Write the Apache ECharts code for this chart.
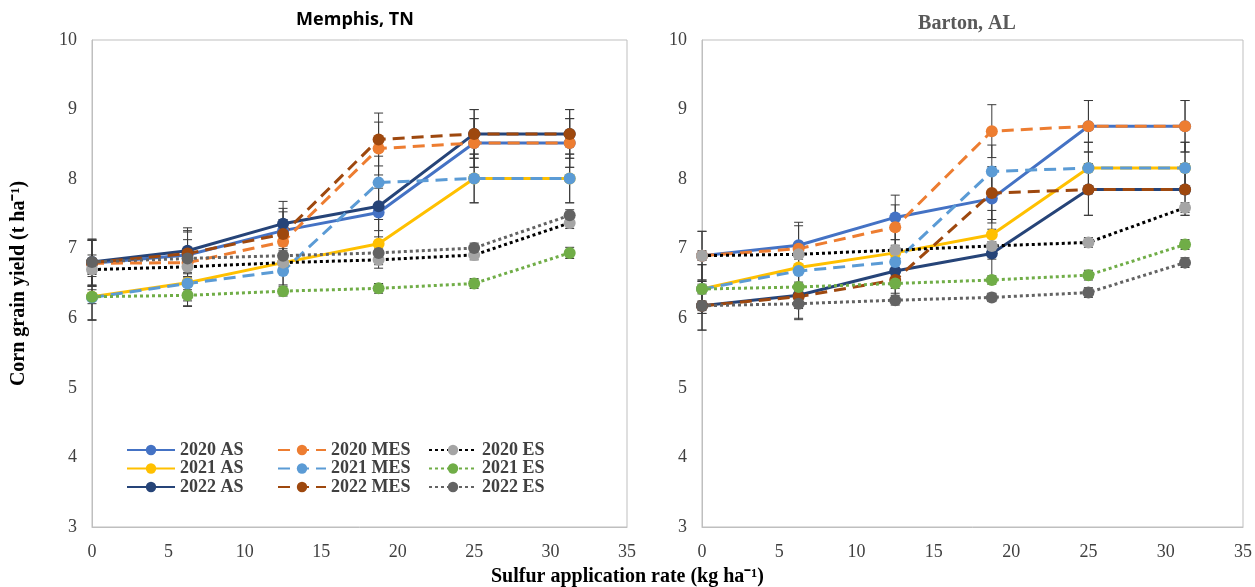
<!DOCTYPE html>
<html>
<head>
<meta charset="utf-8">
<script src="https://cdn.jsdelivr.net/npm/echarts@6/dist/echarts.min.js"></script>
<style>
html,body{margin:0;padding:0;background:#fff;}
#chart{width:1255px;height:587px;}
</style>
</head>
<body>
<div id="chart"></div>
<script>
// Sulfur application rates (kg/ha)
const xRates = [0, 6.25, 12.5, 18.75, 25, 31.25];
const xTicks = [0, 5, 10, 15, 20, 25, 30, 35];
const yTicks = [3, 4, 5, 6, 7, 8, 9, 10];
const seriesNames = ['2020 AS', '2021 AS', '2022 AS', '2020 MES', '2021 MES', '2022 MES', '2020 ES', '2021 ES', '2022 ES'];

// Memphis, TN
const mem2020AS  = [6.79, 6.91, 7.26, 7.52, 8.52, 8.52];
const mem2021AS  = [6.31, 6.51, 6.80, 7.07, 8.01, 8.01];
const mem2022AS  = [6.81, 6.97, 7.36, 7.61, 8.65, 8.65];
const mem2020MES = [6.79, 6.80, 7.10, 8.44, 8.52, 8.52];
const mem2021MES = [6.30, 6.50, 6.68, 7.95, 8.01, 8.01];
const mem2022MES = [6.80, 6.93, 7.21, 8.57, 8.65, 8.65];
const mem2020ES  = [6.70, 6.74, 6.80, 6.84, 6.91, 7.37];
const mem2021ES  = [6.31, 6.33, 6.39, 6.43, 6.50, 6.94];
const mem2022ES  = [6.81, 6.86, 6.90, 6.94, 7.01, 7.48];
const memErrAS  = [0.33, 0.33, 0.32, 0.35, 0.35, 0.35];
const memErrMES = [0.33, 0.33, 0.32, 0.38, 0.35, 0.35];
const memErrES  = [0.10, 0.08, 0.07, 0.07, 0.07, 0.08];

// Barton, AL
const bar2020AS  = [6.90, 7.05, 7.45, 7.72, 8.76, 8.76];
const bar2021AS  = [6.42, 6.73, 6.94, 7.20, 8.16, 8.16];
const bar2022AS  = [6.18, 6.33, 6.68, 6.93, 7.85, 7.85];
const bar2020MES = [6.90, 7.00, 7.31, 8.69, 8.76, 8.76];
const bar2021MES = [6.42, 6.68, 6.81, 8.11, 8.16, 8.16];
const bar2022MES = [6.18, 6.31, 6.55, 7.80, 7.85, 7.85];
const bar2020ES  = [6.90, 6.92, 6.98, 7.04, 7.09, 7.59];
const bar2021ES  = [6.42, 6.45, 6.50, 6.55, 6.62, 7.06];
const bar2022ES  = [6.18, 6.21, 6.26, 6.30, 6.37, 6.80];
const barErrAS  = [0.35, 0.33, 0.32, 0.35, 0.37, 0.37];
const barErrMES = [0.35, 0.33, 0.32, 0.38, 0.37, 0.37];
const barErrES  = [0.07, 0.07, 0.07, 0.06, 0.07, 0.07];

const styles = {
  '2020 AS':  {line:'#4472C4', mark:'#4472C4', type:'solid'},
  '2021 AS':  {line:'#FFC000', mark:'#FFC000', type:'solid'},
  '2022 AS':  {line:'#264478', mark:'#264478', type:'solid'},
  '2020 MES': {line:'#ED7D31', mark:'#ED7D31', type:[12,7]},
  '2021 MES': {line:'#5B9BD5', mark:'#5B9BD5', type:[12,7]},
  '2022 MES': {line:'#9E480E', mark:'#9E480E', type:[12,7]},
  '2020 ES':  {line:'#000000', mark:'#A5A5A5', type:[3,3]},
  '2021 ES':  {line:'#70AD47', mark:'#70AD47', type:[3,3]},
  '2022 ES':  {line:'#636363', mark:'#636363', type:[3,3]}
};

const memData = [mem2020AS, mem2021AS, mem2022AS, mem2020MES, mem2021MES, mem2022MES, mem2020ES, mem2021ES, mem2022ES];
const memErr = [memErrAS, memErrAS, memErrAS, memErrMES, memErrMES, memErrMES, memErrES, memErrES, memErrES];
const barData = [bar2020AS, bar2021AS, bar2022AS, bar2020MES, bar2021MES, bar2022MES, bar2020ES, bar2021ES, bar2022ES];
const barErr = [barErrAS, barErrAS, barErrAS, barErrMES, barErrMES, barErrMES, barErrES, barErrES, barErrES];

function errSeries(vals, errs, idx) {
  return {
    type: 'custom', xAxisIndex: idx, yAxisIndex: idx, silent: true, z: 1,
    data: xRates.map((x, i) => [x, vals[i], errs[i]]),
    renderItem: function (params, api) {
      const x = api.value(0), v = api.value(1), e = api.value(2);
      const t = api.coord([x, v + e]);
      const b = api.coord([x, v - e]);
      const c = 4.5;
      const st = {stroke:'#3a3a3a', lineWidth:1};
      return {type:'group', children:[
        {type:'line', shape:{x1:t[0], y1:t[1], x2:b[0], y2:b[1]}, style:st},
        {type:'line', shape:{x1:t[0]-c, y1:t[1], x2:t[0]+c, y2:t[1]}, style:st},
        {type:'line', shape:{x1:b[0]-c, y1:b[1], x2:b[0]+c, y2:b[1]}, style:st}
      ]};
    }
  };
}

function lineSeries(name, vals, idx) {
  const s = styles[name];
  return {
    name: name, type: 'line', xAxisIndex: idx, yAxisIndex: idx, z: 3,
    data: xRates.map((x, i) => [x, vals[i]]),
    symbol: 'circle', symbolSize: 12, showSymbol: true,
    lineStyle: {color: s.line, width: 3, type: s.type},
    itemStyle: {color: s.mark, borderWidth: 0},
    emphasis: {disabled: true},
    animation: false
  };
}

const series = [];
seriesNames.forEach((n, i) => series.push(errSeries(memData[i], memErr[i], 0)));
seriesNames.forEach((n, i) => series.push(errSeries(barData[i], barErr[i], 1)));
seriesNames.forEach((n, i) => series.push(lineSeries(n, memData[i], 0)));
seriesNames.forEach((n, i) => series.push(lineSeries(n, barData[i], 1)));

const labelFont = {fontFamily:'Liberation Serif', fontSize:18, color:'#404040'};
function xAx(idx) {
  return {
    type:'value', gridIndex: idx, min: xTicks[0], max: xTicks[xTicks.length-1], interval: 5,
    axisLine:{show:true, lineStyle:{color:'#BFBFBF', width:1}},
    axisTick:{show:false}, splitLine:{show:false},
    axisLabel: Object.assign({margin:16}, labelFont)
  };
}
function yAx(idx, named) {
  const a = {
    type:'value', gridIndex: idx, min: yTicks[0], max: yTicks[yTicks.length-1], interval: 1,
    axisLine:{show:true, lineStyle:{color:'#BFBFBF', width:1}},
    axisTick:{show:false}, splitLine:{show:false},
    axisLabel: Object.assign({margin:15}, labelFont)
  };
  if (named) {
    a.name = 'Corn grain yield (t ha⁻¹)';
    a.nameLocation = 'middle';
    a.nameRotate = 90;
    a.nameGap = 63;
    a.nameTextStyle = {fontFamily:'Liberation Serif', fontWeight:'bold', fontSize:20, color:'#000'};
  }
  return a;
}

const legTxt = {fontFamily:'Liberation Serif', fontWeight:'bold', fontSize:18, lineHeight:17, color:'#404040'};
function leg(left, names) {
  return {
    left: left, top: 441, orient:'vertical', itemWidth: 48, itemHeight: 13, itemGap: 0.5,
    textStyle: legTxt, data: names, selectedMode: false, padding: 0
  };
}

const option = {
  animation: false,
  backgroundColor: '#fff',
  title: [
    {text:'Memphis, TN', left: 350, top: 6, textAlign:'center',
     textStyle:{fontFamily:'Open Sans', fontWeight:'bold', fontSize:18, color:'#000'}},
    {text:'Barton, AL', left: 962, top: 9, textAlign:'center',
     textStyle:{fontFamily:'Liberation Serif', fontWeight:'bold', fontSize:20, color:'#595959'}}
  ],
  grid: [
    {left: 92, top: 40, width: 535, height: 487, show: true, borderColor:'#BFBFBF', borderWidth: 1},
    {left: 702, top: 40, width: 541, height: 487, show: true, borderColor:'#BFBFBF', borderWidth: 1}
  ],
  xAxis: [xAx(0), xAx(1)],
  yAxis: [yAx(0, true), yAx(1, false)],
  legend: [
    leg(126, seriesNames.slice(0,3)),
    leg(277, seriesNames.slice(3,6)),
    leg(428, seriesNames.slice(6,9))
  ],
  graphic: [
    {type:'text', left: 'center', top: 567,
     style:{text:'Sulfur application rate (kg ha⁻¹)', font:'bold 20px "Liberation Serif"', fill:'#000'}}
  ],
  series: series
};

const chart = echarts.init(document.getElementById('chart'), null, {renderer:'canvas'});
chart.setOption(option);
</script>
</body>
</html>
